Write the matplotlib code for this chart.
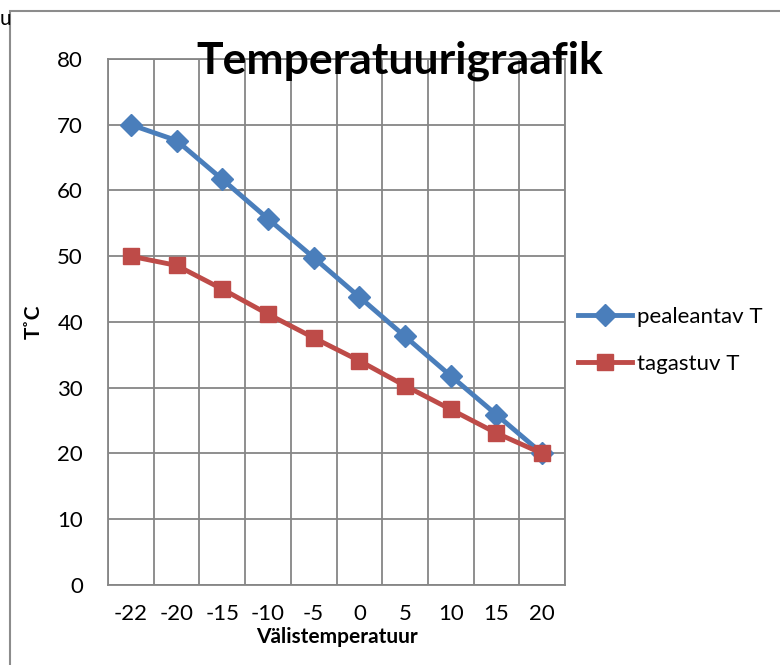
import numpy as np
import matplotlib
matplotlib.use("Agg")
import matplotlib.pyplot as plt
from matplotlib.patches import Rectangle

plt.rcParams['font.family'] = ['Lato', 'DejaVu Sans']

# data
categories = ["-22", "-20", "-15", "-10", "-5", "0", "5", "10", "15", "20"]
pealeantav = [70.0, 67.6, 61.7, 55.7, 49.8, 43.8, 37.8, 31.8, 25.9, 20.0]
tagastuv = [50.0, 48.6, 45.0, 41.2, 37.6, 34.1, 30.3, 26.7, 23.1, 20.0]

blue = "#4A7EBB"
red = "#BE4B48"
grid_col = "#868686"

fig = plt.figure(figsize=(7.8, 6.65), dpi=100)
ax = fig.add_axes([0.1385, 0.1203, 0.5859, 0.791])

x = np.arange(len(categories))
ax.plot(x, pealeantav, color=blue, lw=3.5, marker="D", markersize=11, label="pealeantav T")
ax.plot(x, tagastuv, color=red, lw=3.5, marker="s", markersize=12, label="tagastuv T")

ax.set_xlim(-0.5, len(categories) - 0.5)
ax.set_ylim(0, 80)
ax.set_yticks(np.arange(0, 81, 10))
ax.set_xticks(x)
ax.set_xticklabels(categories)
ax.set_xticks(np.arange(-0.5, len(categories), 1), minor=True)
ax.tick_params(axis="x", which="both", length=0, pad=14, labelsize=16)
ax.tick_params(axis="y", length=0, pad=18, labelsize=16)
ax.grid(True, axis="y", which="major", color=grid_col, lw=1.3)
ax.grid(True, axis="x", which="minor", color=grid_col, lw=1.3)
ax.grid(False, axis="x", which="major")
ax.set_axisbelow(True)
for s in ax.spines.values():
    s.set_color(grid_col)
    s.set_linewidth(1.3)

ax.set_xlabel("Välistemperatuur", fontsize=15, fontweight="bold", labelpad=2)
ax.set_ylabel("T˚C", fontsize=15, fontweight="bold", labelpad=10)
fig.text(0.513, 0.908, "Temperatuurigraafik", fontsize=32, fontweight="bold",
         ha="center", va="center")

ax.legend(loc="center left", bbox_to_anchor=(1.0, 0.465), frameon=False,
          fontsize=16, handlelength=2.4, labelspacing=1.2, handletextpad=0.25,
          borderaxespad=0.2)

# outer frame and cut text
fig.add_artist(Rectangle((10 / 780, -0.1), 1.2, 1.1 - 11 / 665,
                         transform=fig.transFigure, fill=False,
                         edgecolor="#8c8c8c", lw=1.5))
fig.text(0.0, 1 - 19 / 665, "u", fontsize=15, ha="left", va="center")

fig.savefig("out.png", dpi=100)
